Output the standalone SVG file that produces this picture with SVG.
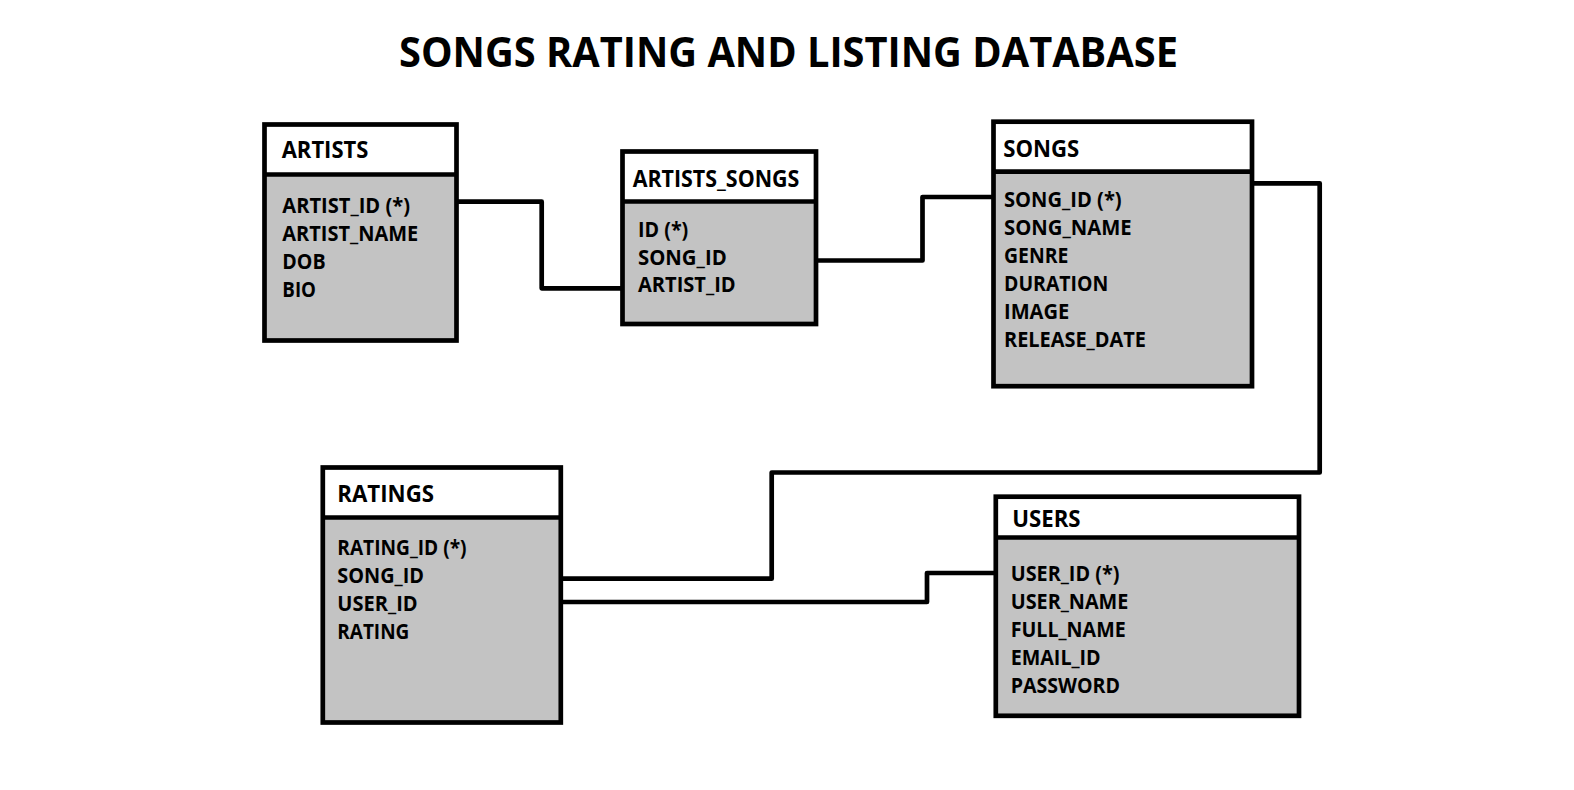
<svg xmlns="http://www.w3.org/2000/svg" width="1574" height="790" viewBox="0 0 1574 790">
<style>
.bg{fill:#ffffff}
.hdr{fill:#ffffff;stroke:none}
.body{fill:#c3c3c3;stroke:none}
.frame{fill:none;stroke:#000;stroke-width:4.7;stroke-linejoin:miter}
.div{stroke:#000;stroke-width:4.7}
.conn{fill:none;stroke:#000;stroke-width:4.7;stroke-linejoin:round;stroke-linecap:round}
text{font-family:"Open Sans","Liberation Sans",sans-serif;font-weight:700;fill:#000}
.title{font-size:42px}
.th{font-size:23px}
.f{font-size:21px}
</style>
<rect class="bg" x="0" y="0" width="1574" height="790"/>
<text class="title" x="399" y="66.5" textLength="779" lengthAdjust="spacingAndGlyphs">SONGS RATING AND LISTING DATABASE</text>

<g id="connectors">
<polyline class="conn" points="456,201.7 541.7,201.7 541.7,288.3 622.5,288.3"/>
<polyline class="conn" points="816,260.5 922.5,260.5 922.5,197 993.5,197"/>
<polyline class="conn" points="1252,183.3 1319.7,183.3 1319.7,472.5 771.7,472.5 771.7,578.7 561,578.7"/>
<polyline class="conn" points="995.8,573 927,573 927,602 561,602"/>
</g>

<g id="artists">
<rect class="hdr" x="264.5" y="124.5" width="192" height="50"/>
<rect class="body" x="264.5" y="174.5" width="192" height="166"/>
<rect class="frame" x="264.5" y="124.5" width="192" height="216"/>
<line class="div" x1="264.5" y1="174.5" x2="458" y2="174.5"/>
<text class="th" x="281.7" y="157.7" textLength="86.7" lengthAdjust="spacingAndGlyphs">ARTISTS</text>
<text class="f" x="282.3" y="212.8" textLength="127.7" lengthAdjust="spacingAndGlyphs">ARTIST_ID (*)</text>
<text class="f" x="282.3" y="240.8" textLength="136" lengthAdjust="spacingAndGlyphs">ARTIST_NAME</text>
<text class="f" x="282.3" y="268.8" textLength="43.3" lengthAdjust="spacingAndGlyphs">DOB</text>
<text class="f" x="282.3" y="296.8" textLength="33.7" lengthAdjust="spacingAndGlyphs">BIO</text>
</g>

<g id="artists_songs">
<rect class="hdr" x="622.5" y="151.5" width="193.5" height="50"/>
<rect class="body" x="622.5" y="201.5" width="193.5" height="122.5"/>
<rect class="frame" x="622.5" y="151.5" width="193.5" height="172.5"/>
<line class="div" x1="622.5" y1="201.5" x2="818" y2="201.5"/>
<text class="th" x="632.7" y="186.7" textLength="166.7" lengthAdjust="spacingAndGlyphs">ARTISTS_SONGS</text>
<text class="f" x="638" y="237" textLength="50.3" lengthAdjust="spacingAndGlyphs">ID (*)</text>
<text class="f" x="638" y="264.5" textLength="88.7" lengthAdjust="spacingAndGlyphs">SONG_ID</text>
<text class="f" x="638" y="292" textLength="97.7" lengthAdjust="spacingAndGlyphs">ARTIST_ID</text>
</g>

<g id="songs">
<rect class="hdr" x="993.5" y="121.7" width="258.5" height="50"/>
<rect class="body" x="993.5" y="171.7" width="258.5" height="214.5"/>
<rect class="frame" x="993.5" y="121.7" width="258.5" height="264.5"/>
<line class="div" x1="993.5" y1="171.7" x2="1252" y2="171.7"/>
<text class="th" x="1003.3" y="156.7" textLength="76" lengthAdjust="spacingAndGlyphs">SONGS</text>
<text class="f" x="1004" y="206.5" textLength="117.7" lengthAdjust="spacingAndGlyphs">SONG_ID (*)</text>
<text class="f" x="1004" y="234.5" textLength="127.7" lengthAdjust="spacingAndGlyphs">SONG_NAME</text>
<text class="f" x="1004" y="262.5" textLength="64.3" lengthAdjust="spacingAndGlyphs">GENRE</text>
<text class="f" x="1004" y="290.5" textLength="104.3" lengthAdjust="spacingAndGlyphs">DURATION</text>
<text class="f" x="1004" y="318.5" textLength="65.3" lengthAdjust="spacingAndGlyphs">IMAGE</text>
<text class="f" x="1004" y="346.5" textLength="142" lengthAdjust="spacingAndGlyphs">RELEASE_DATE</text>
</g>

<g id="ratings">
<rect class="hdr" x="322.8" y="467.5" width="238" height="50"/>
<rect class="body" x="322.8" y="517.5" width="238" height="205"/>
<rect class="frame" x="322.8" y="467.5" width="238" height="255"/>
<line class="div" x1="322.8" y1="517.5" x2="560.8" y2="517.5"/>
<text class="th" x="337.3" y="501.7" textLength="96.7" lengthAdjust="spacingAndGlyphs">RATINGS</text>
<text class="f" x="337.3" y="554.5" textLength="129.3" lengthAdjust="spacingAndGlyphs">RATING_ID (*)</text>
<text class="f" x="337.3" y="582.5" textLength="86.7" lengthAdjust="spacingAndGlyphs">SONG_ID</text>
<text class="f" x="337.3" y="610.5" textLength="80.3" lengthAdjust="spacingAndGlyphs">USER_ID</text>
<text class="f" x="337.3" y="638.5" textLength="72" lengthAdjust="spacingAndGlyphs">RATING</text>
</g>

<g id="users">
<rect class="hdr" x="995.8" y="496.7" width="303.2" height="40.8"/>
<rect class="body" x="995.8" y="537.5" width="303.2" height="178.3"/>
<rect class="frame" x="995.8" y="496.7" width="303.2" height="219.1"/>
<line class="div" x1="995.8" y1="537.5" x2="1301" y2="537.5"/>
<text class="th" x="1012.3" y="526.7" textLength="68.3" lengthAdjust="spacingAndGlyphs">USERS</text>
<text class="f" x="1010.7" y="581" textLength="108.7" lengthAdjust="spacingAndGlyphs">USER_ID (*)</text>
<text class="f" x="1010.7" y="609" textLength="117.7" lengthAdjust="spacingAndGlyphs">USER_NAME</text>
<text class="f" x="1010.7" y="637" textLength="115" lengthAdjust="spacingAndGlyphs">FULL_NAME</text>
<text class="f" x="1010.7" y="665" textLength="90" lengthAdjust="spacingAndGlyphs">EMAIL_ID</text>
<text class="f" x="1010.7" y="693" textLength="109.3" lengthAdjust="spacingAndGlyphs">PASSWORD</text>
</g>
</svg>
